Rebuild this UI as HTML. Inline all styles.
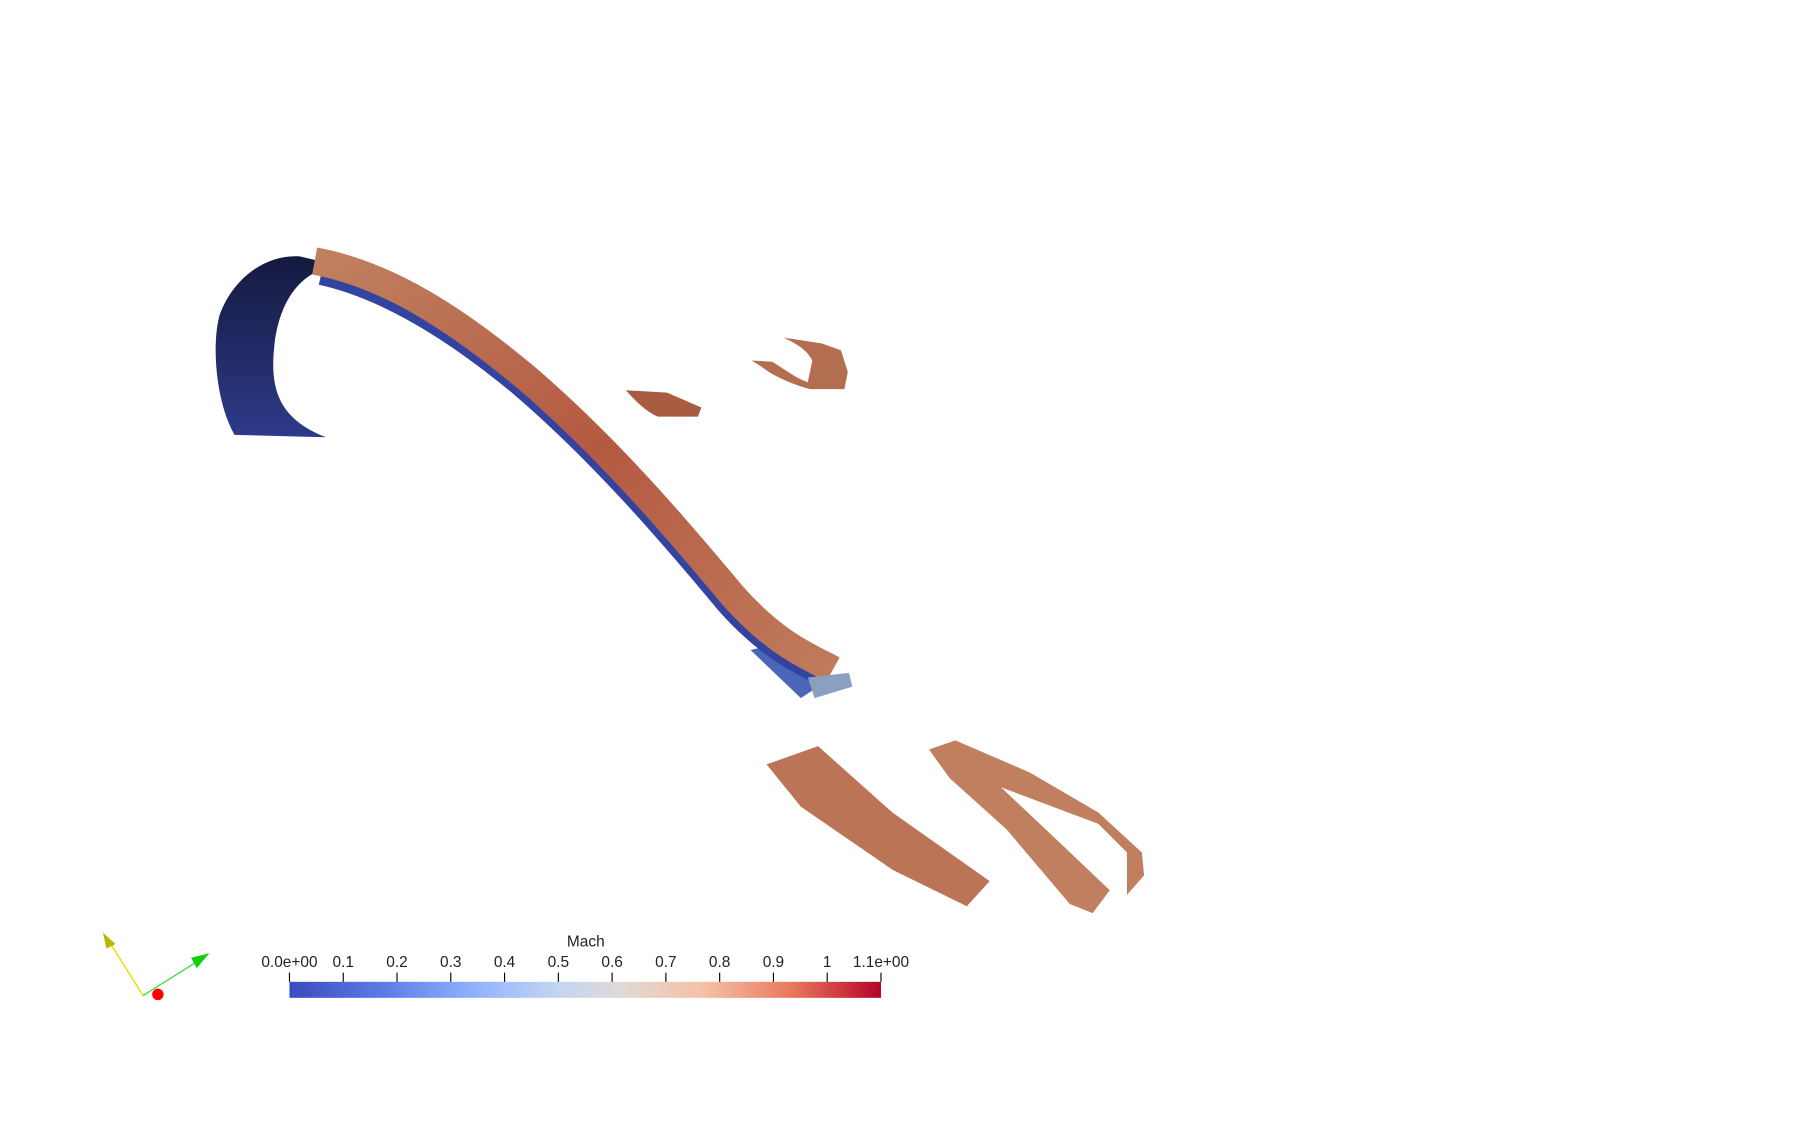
<!DOCTYPE html>
<html><head><meta charset="utf-8"><style>
html,body{margin:0;padding:0;background:#fff;}
svg{display:block;}
text{font-family:"Liberation Sans",sans-serif;}
</style></head><body>
<svg width="1794" height="1141" viewBox="0 0 1568 997" xmlns="http://www.w3.org/2000/svg">
<defs>
<linearGradient id="cw" x1="0" x2="1" y1="0" y2="0">
<stop offset="0" stop-color="#3b4cc0"/><stop offset="0.15" stop-color="#5a78e4"/>
<stop offset="0.3" stop-color="#8caefe"/><stop offset="0.45" stop-color="#c3d5f4"/>
<stop offset="0.56" stop-color="#e0dad6"/><stop offset="0.7" stop-color="#f5c0a7"/>
<stop offset="0.85" stop-color="#e9785d"/><stop offset="1" stop-color="#b40426"/>
</linearGradient>
<linearGradient id="hook" x1="0" x2="0" y1="0" y2="1">
<stop offset="0" stop-color="#141a3e"/><stop offset="1" stop-color="#2e3a8a"/>
</linearGradient>
<linearGradient id="rib" x1="0" x2="1" y1="0" y2="1">
<stop offset="0" stop-color="#c08060"/><stop offset="0.5" stop-color="#b45a42"/><stop offset="1" stop-color="#c07a5c"/>
</linearGradient>
</defs>
<g>
<path d="M205,380 C188,350 185,300 192,275 C205,240 235,222 262,224 L296,232 C265,235 245,260 240,300 C236,335 240,365 285,382 Z" fill="url(#hook)"/>
<path d="M656,568 L690,560 L715,600 L700,610 Z" fill="#4a66b8"/>
<path transform="translate(-4,6)" d="M285,232 C340,244 400,280 460,330 C530,390 590,460 640,520 C680,565 710,575 728,585" fill="none" stroke="#3343a0" stroke-width="22" stroke-linejoin="round"/>
<path d="M275,228 C340,240 400,280 460,330 C530,390 590,460 640,520 C680,565 710,575 728,585" fill="none" stroke="url(#rib)" stroke-width="24" stroke-linejoin="round"/>
<path d="M706,592 L742,588 L745,600 L712,610 Z" fill="#8aa0c0"/>
</g>
<path d="M547,341 L583,343 L613,356 L610,364 L575,364 C565,360 555,350 547,341 Z" fill="#a85c40"/>
<path d="M685,295 L718,300 L735,306 L741,325 L738,340 L708,340 C690,335 675,328 665,320 L657,315 L675,316 C685,322 695,330 706,334 L710,315 C705,305 695,300 685,295 Z" fill="#b36e50"/>
<path d="M670,668 L715,652 L780,710 L865,770 L845,792 L780,760 L700,705 Z" fill="#bb7456"/>
<path d="M812,655 L835,647 L900,675 L960,710 L998,745 L1000,765 L985,782 L985,745 L960,720 L875,688 L930,740 L970,778 L955,798 L935,790 L880,725 L830,680 Z" fill="#c0805f"/>
<g>
<line x1="125" y1="870" x2="95" y2="822" stroke="#e0e000" stroke-width="1.2"/>
<polygon points="90,815 101,825 93,829" fill="#b8b800"/>
<line x1="125" y1="870" x2="176" y2="838" stroke="#3ee03e" stroke-width="1.2"/>
<polygon points="183,833 172,846 167,837" fill="#10d010"/>
<circle cx="138" cy="869" r="5" fill="#f00"/>
</g>
<g>
<text x="512" y="827" font-size="13.5" text-anchor="middle" fill="#222">Mach</text>
<rect x="253" y="858" width="517" height="14" fill="url(#cw)"/>
<g id="ticks"></g>
</g>
</svg>
<script>
const tickValues = [0,0.1,0.2,0.3,0.4,0.5,0.6,0.7,0.8,0.9,1,1.1];
const tickLabels = ["0.0e+00","0.1","0.2","0.3","0.4","0.5","0.6","0.7","0.8","0.9","1","1.1e+00"];
const vMin = 0, vMax = 1.1;
const ns = "http://www.w3.org/2000/svg";
const g = document.getElementById('ticks');
function xs(v){ return 253 + (v - vMin)/(vMax - vMin)*517; }
tickValues.forEach((v,i)=>{
  const l = document.createElementNS(ns,'line');
  l.setAttribute('x1',xs(v)); l.setAttribute('x2',xs(v));
  l.setAttribute('y1',850); l.setAttribute('y2',858);
  l.setAttribute('stroke','#000');
  
  
  g.appendChild(l);
  const t = document.createElementNS(ns,'text');
  t.setAttribute('x',xs(v)); t.setAttribute('y',845);
  t.setAttribute('font-size','13.5'); t.setAttribute('fill','#222');
  t.setAttribute('text-anchor','middle');
  t.textContent = tickLabels[i];
  
  
  g.appendChild(t);
});
</script>
</body></html>
